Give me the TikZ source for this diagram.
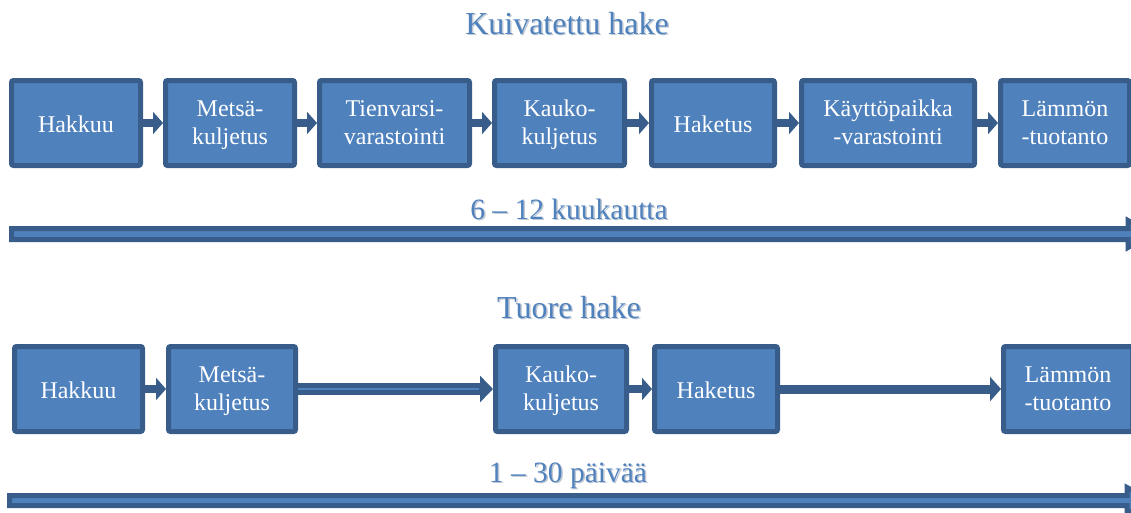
\documentclass[tikz,border=0pt]{standalone}
\usepackage{fontspec}
\setmainfont{Liberation Serif}[Ligatures=TeX]
\newfontfamily\tnr{Liberation Serif}
\usetikzlibrary{arrows.meta}
\definecolor{boxfill}{HTML}{4F81BD}
\definecolor{boxline}{HTML}{385D8A}
\definecolor{shadowc}{HTML}{BFC8D4}
\tikzset{
  stepbox/.style={draw=boxline, fill=boxfill, line width=5pt, rounded corners=2pt,
    minimum height=85pt, text=white, align=center, inner sep=0pt,
    text height=42pt, text depth=0pt,
    font=\tnr\fontsize{24}{27.3}\selectfont},
  oneline/.style={text height=18.6pt, text depth=0pt},
  smallarr/.style={draw=boxline, line width=8pt, -{Triangle[length=10pt,width=22pt]}},
  longarr/.style={draw=boxline, line width=12pt, -{Triangle[length=13pt,width=26pt]}},
  innerline/.style={draw=boxfill, line width=2pt, shorten >=14pt},
  solidarr/.style={draw=boxline, line width=9pt, -{Triangle[length=11pt,width=24pt]}},
  titletext/.style={text=boxfill, anchor=base, font=\tnr\fontsize{32}{32}\selectfont},
  shadowtitle/.style={text=shadowc, anchor=base, font=\tnr\fontsize{32}{32}\selectfont},
  spantext/.style={text=boxfill, anchor=base, font=\tnr\fontsize{29.5}{30}\selectfont},
  shadowspan/.style={text=shadowc, anchor=base, font=\tnr\fontsize{29.5}{30}\selectfont},
  timebar/.style={draw=boxline, fill=boxfill, line width=5pt, line join=miter},
}
\begin{document}
\begin{tikzpicture}[x=1pt,y=-1pt]
\useasboundingbox (0,0) rectangle (1131,512);
\clip (0,0) rectangle (1131,512);

% titles
\node[shadowtitle] at (568.5,35.5) {Kuivatettu hake};
\node[titletext] (t1) at (567,34) {Kuivatettu hake};
\node[shadowspan] at (570.5,220.5) {6 – 12 kuukautta};
\node[spantext] (d1) at (569,219) {6 – 12 kuukautta};
\node[shadowtitle] at (570.5,319.5) {Tuore hake};
\node[titletext] (t2) at (569,318) {Tuore hake};
\node[shadowspan] at (569.5,483.5) {1 – 30 päivää};
\node[spantext] (d2) at (568,482) {1 – 30 päivää};

% top row
\node[stepbox, oneline, minimum width=129pt] (h1) at (76,123) {Hakkuu};
\node[stepbox, minimum width=129pt] (m1) at (230,123) {Metsä-\\kuljetus};
\node[stepbox, minimum width=150pt] (tv1) at (394.5,123) {Tienvarsi-\\varastointi};
\node[stepbox, minimum width=130pt] (k1) at (559.5,123) {Kauko-\\kuljetus};
\node[stepbox, oneline, minimum width=123pt] (hk1) at (713,123) {Haketus};
\node[stepbox, minimum width=173pt] (kp1) at (888,123) {Käyttöpaikka\\-varastointi};
\node[stepbox, minimum width=129pt] (l1) at (1065,123) {Lämmön\\-tuotanto};

\draw[smallarr] (h1.east) -- (m1.west);
\draw[smallarr] (m1.east) -- (tv1.west);
\draw[smallarr] (tv1.east) -- (k1.west);
\draw[smallarr] (k1.east) -- (hk1.west);
\draw[smallarr] (hk1.east) -- (kp1.west);
\draw[smallarr] (kp1.east) -- (l1.west);

% top time bar
\draw[timebar] (11.5,228.5) -- (1128,228.5) -- (1128,220.5) -- (1152,234) -- (1128,247.5) -- (1128,239.5) -- (11.5,239.5) -- cycle;

% bottom row
\node[stepbox, oneline, minimum width=128pt] (h2) at (78.5,389) {Hakkuu};
\node[stepbox, minimum width=127pt] (m2) at (232,389) {Metsä-\\kuljetus};
\node[stepbox, minimum width=131pt] (k2) at (561,389) {Kauko-\\kuljetus};
\node[stepbox, oneline, minimum width=123pt] (hk2) at (716,389) {Haketus};
\node[stepbox, minimum width=129pt] (l2) at (1068,389) {Lämmön\\-tuotanto};

\draw[smallarr] (h2.east) -- (m2.west);
\draw[longarr] (m2.east) -- (k2.west);
\draw[innerline] (m2.east) -- (k2.west);
\draw[smallarr] (k2.east) -- (hk2.west);
\draw[solidarr] (hk2.east) -- (l2.west);

% bottom time bar
\draw[timebar] (9.5,495.5) -- (1127,495.5) -- (1127,487.5) -- (1151,500.5) -- (1127,513.5) -- (1127,505.5) -- (9.5,505.5) -- cycle;
\end{tikzpicture}
\end{document}
